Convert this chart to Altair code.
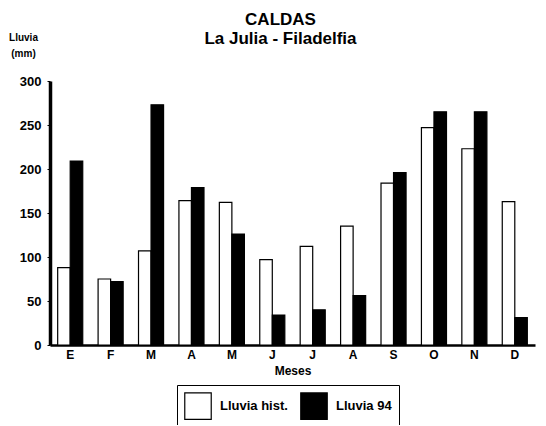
import altair as alt
import pandas as pd

months = ["E", "F", "M", "A", "M", "J", "J", "A", "S", "O", "N", "D"]
hist = [88, 75, 107, 164, 162, 97, 112, 135, 184, 247, 223, 163]
y94 = [209, 72, 273, 179, 126, 34, 40, 56, 196, 265, 265, 31]
series = ["Lluvia hist.", "Lluvia 94"]

rows = []
for i, m in enumerate(months):
    rows.append({"idx": i, "mes": m, "serie": series[0], "valor": hist[i]})
    rows.append({"idx": i, "mes": m, "serie": series[1], "valor": y94[i]})
df = pd.DataFrame(rows)

font = "Liberation Sans"
label_expr = "[" + ",".join("'%s'" % m for m in months) + "][datum.value]"

chart = alt.Chart(df).mark_bar(stroke="black", strokeWidth=1.2).encode(
    x=alt.X("idx:O",
            scale=alt.Scale(paddingInner=0.38, paddingOuter=0.19),
            axis=alt.Axis(title="Meses", labelExpr=label_expr, labelAngle=0,
                          labelFont=font, labelFontWeight="bold", labelFontSize=12,
                          labelColor="black", titleFont=font, titleFontWeight="bold",
                          titleFontSize=12, titleColor="black", titlePadding=5,
                          domainColor="black", domainWidth=2.5, ticks=False,
                          labelPadding=4)),
    xOffset=alt.XOffset("serie:N", sort=series),
    y=alt.Y("valor:Q",
            scale=alt.Scale(domain=[0, 300], nice=False),
            axis=alt.Axis(values=[0, 50, 100, 150, 200, 250, 300], grid=False,
                          title=["Lluvia", "(mm)"], titleAngle=0, titleAlign="center",
                          titleX=-27, titleY=-41, titleBaseline="alphabetic",
                          titleFont=font, titleFontWeight="bold", titleFontSize=10,
                          titleColor="black", titleLineHeight=16,
                          labelFont=font, labelFontWeight="bold", labelFontSize=13,
                          labelColor="black", labelPadding=6,
                          domainColor="black", domainWidth=3.5,
                          ticks=True, tickSize=3, tickColor="black")),
    fill=alt.Fill("serie:N", sort=series,
                  scale=alt.Scale(domain=series, range=["white", "black"]),
                  legend=alt.Legend(title=None, orient="none", legendX=127, legendY=304,
                                    direction="horizontal", strokeColor="black",
                                    fillColor="white", padding=7,
                                    symbolType="square", symbolSize=700,
                                    symbolStrokeColor="black", symbolStrokeWidth=1.2,
                                    labelFont=font, labelFontWeight="bold",
                                    labelFontSize=13, labelColor="black",
                                    columnPadding=10, labelOffset=8)),
).properties(
    width=485,
    height=264,
    title=alt.Title("CALDAS", subtitle="La Julia - Filadelfia", anchor="middle",
                    font=font, fontSize=17, fontWeight="bold", color="black",
                    subtitleFont=font, subtitleFontSize=17, subtitleFontWeight="bold",
                    subtitleColor="black", offset=-16, dx=-12, subtitlePadding=2),
    autosize=alt.AutoSizeParams(type="none"),
    padding={"left": 42, "top": 73, "right": 3, "bottom": 80},
).configure_view(stroke=None)

chart.save("out.html", embed_options={"renderer": "svg", "actions": False})
